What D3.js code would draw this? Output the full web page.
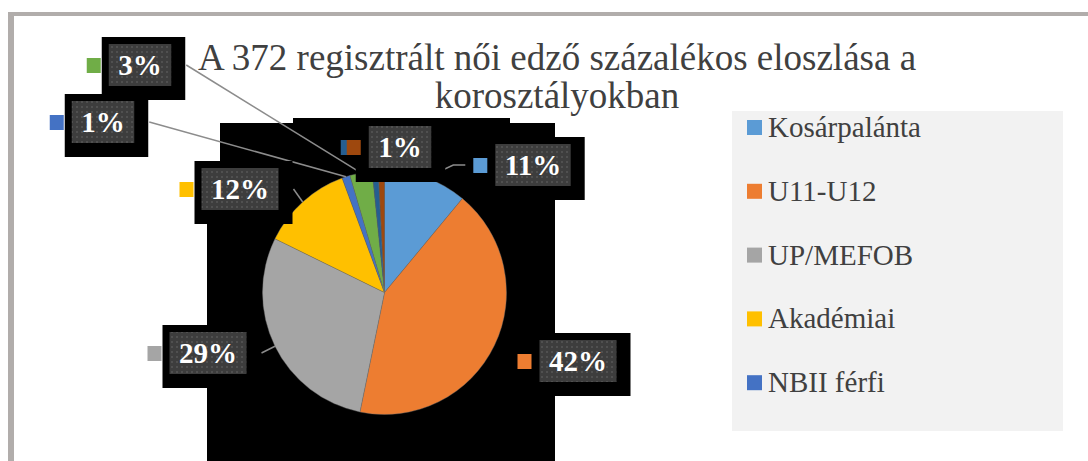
<!DOCTYPE html>
<html>
<head>
<meta charset="utf-8">
<title>Női edzők korosztályonként</title>
<script src="https://cdn.jsdelivr.net/npm/d3@7"></script>
<style>
html,body{margin:0;padding:0;background:#fff;}
svg{display:block;}
</style>
</head>
<body>
<script>
// data
var categories=["Kosárpalánta","U11-U12","UP/MEFOB","Akadémiai","NBII férfi","NBI férfi","NBI női","Felnőtt"];
var counts=[41,157,108,45,4,11,3,3];
var colors=["#5B9BD5","#ED7D31","#A5A5A5","#FFC000","#4472C4","#70AD47","#255E91","#9E480E"];
var legendShown=5; // only the first five fit in the legend box
var titleLines=["A 372 regisztrált női edző százalékos eloszlása a","korosztályokban"];

// where the data labels were dragged to (centre of the dark box), per slice
var labelAt=[[533,165],[578,361],[208,353],[240,189],[103,122],[140,65],[394,147],[400,147]];
var leader=[true,false,true,true,true,true,false,false];
var hiddenLabel=[false,false,false,false,false,false,true,false]; // covered by the next one

var W=1088,H=461;
var cx=384.5,cy=292.5,r=122;
var serif="Liberation Serif";

var svg=d3.select("body").append("svg")
	.attr("width",W)
	.attr("height",H);

var defs=svg.append("defs");
var pat=defs.append("pattern")
	.attr("id","dots")
	.attr("width",5)
	.attr("height",5)
	.attr("patternUnits","userSpaceOnUse");
pat.append("rect").attr("width",5).attr("height",5).attr("fill","#3d3d3d");
pat.append("rect").attr("x",1).attr("y",1).attr("width",2).attr("height",2).attr("fill","#505050");

// frame
svg.append("rect").attr("x",8).attr("y",12).attr("width",W-8).attr("height",4).attr("fill","#b1adab");
svg.append("rect").attr("x",8).attr("y",12).attr("width",6).attr("height",H-12).attr("fill","#b1adab");

// title
svg.append("g").selectAll("text")
	.data(titleLines)
	.enter()
	.append("text")
	.attr("x",557)
	.attr("y",(d,i)=>70+i*38)
	.attr("text-anchor","middle")
	.attr("font-family",serif)
	.attr("font-size",37)
	.attr("fill","#404040")
	.text(d=>d);

// plot area (black)
svg.append("rect")
	.attr("x",220).attr("y",123)
	.attr("width",335).attr("height",H-123)
	.attr("fill","#000");
svg.append("rect")
	.attr("x",293).attr("y",118)
	.attr("width",217).attr("height",6)
	.attr("fill","#000");
svg.append("rect")
	.attr("x",207).attr("y",200)
	.attr("width",14).attr("height",H-200)
	.attr("fill","#000");

// pie
var total=d3.sum(counts);
var pie=d3.pie().sort(null).value(d=>d);
var arcs=pie(counts);
var arc=d3.arc().innerRadius(0).outerRadius(r);
var edge=d3.arc().innerRadius(r).outerRadius(r);

var g=svg.append("g").attr("transform","translate("+cx+","+cy+")");
g.selectAll("path")
	.data(arcs)
	.enter()
	.append("path")
	.attr("d",arc)
	.attr("fill",(d,i)=>colors[i])
	.attr("stroke","#6f6f6f")
	.attr("stroke-width",0.4);

// measure label widths
var pct=counts.map(v=>Math.round(v/total*100)+"%");
var tmp=svg.append("text").attr("font-family",serif).attr("font-size",29).attr("font-weight","bold");
var widths=pct.map(t=>{tmp.text(t);return tmp.node().getComputedTextLength();});
tmp.remove();

var boxes=arcs.map((d,i)=>{
	var w=widths[i]+19,h=42;
	return {i:i,x:labelAt[i][0]-w/2,y:labelAt[i][1]-h/2,w:w,h:h,p:edge.centroid(d)};
});

// leader lines
svg.append("g").selectAll("polyline")
	.data(boxes.filter(b=>leader[b.i]))
	.enter()
	.append("polyline")
	.attr("fill","none")
	.attr("stroke","#8c8c8c")
	.attr("stroke-width",1.5)
	.attr("points",b=>{
		var px=cx+b.p[0],py=cy+b.p[1],yy=b.y+b.h/2;
		if(labelAt[b.i][0]<px){
			var sx=b.x+b.w+15;
			return [[sx,yy],[px,py]].join(" ");
		}
		var sx2=b.x-30;
		return [[sx2,yy],[sx2-12,yy],[px,py]].join(" ");
	});

// label boxes
var lab=svg.append("g").selectAll("g")
	.data(boxes)
	.enter()
	.append("g");
lab.append("rect")
	.attr("x",b=>b.x-7).attr("y",b=>b.y-7)
	.attr("width",b=>b.w+21).attr("height",b=>b.h+21)
	.attr("fill","#000");
lab.append("rect")
	.attr("x",b=>b.x).attr("y",b=>b.y)
	.attr("width",b=>b.w).attr("height",b=>b.h)
	.attr("fill","url(#dots)");
lab.append("rect")
	.attr("x",b=>b.x-22).attr("y",b=>b.y+b.h/2-7)
	.attr("width",14).attr("height",15)
	.attr("fill",b=>colors[b.i]);
lab.filter(b=>!hiddenLabel[b.i]).append("text")
	.attr("x",b=>b.x+b.w/2)
	.attr("y",b=>b.y+b.h/2+10)
	.attr("text-anchor","middle")
	.attr("font-family",serif)
	.attr("font-size",29)
	.attr("font-weight","bold")
	.attr("fill","#fff")
	.text(b=>pct[b.i]);

// legend
var lg=svg.append("g");
lg.append("rect")
	.attr("x",732).attr("y",111)
	.attr("width",331).attr("height",320)
	.attr("fill","#f2f2f2");
var items=lg.selectAll("g.item")
	.data(categories.slice(0,legendShown))
	.enter()
	.append("g")
	.attr("class","item")
	.attr("transform",(d,i)=>"translate(747,"+(127+i*63.8)+")");
items.append("rect")
	.attr("x",0).attr("y",-7)
	.attr("width",15).attr("height",15)
	.attr("fill",(d,i)=>colors[i]);
items.append("text")
	.attr("x",21).attr("y",10)
	.attr("font-family",serif)
	.attr("font-size",29)
	.attr("fill","#404040")
	.text(d=>d);
</script>
</body>
</html>
